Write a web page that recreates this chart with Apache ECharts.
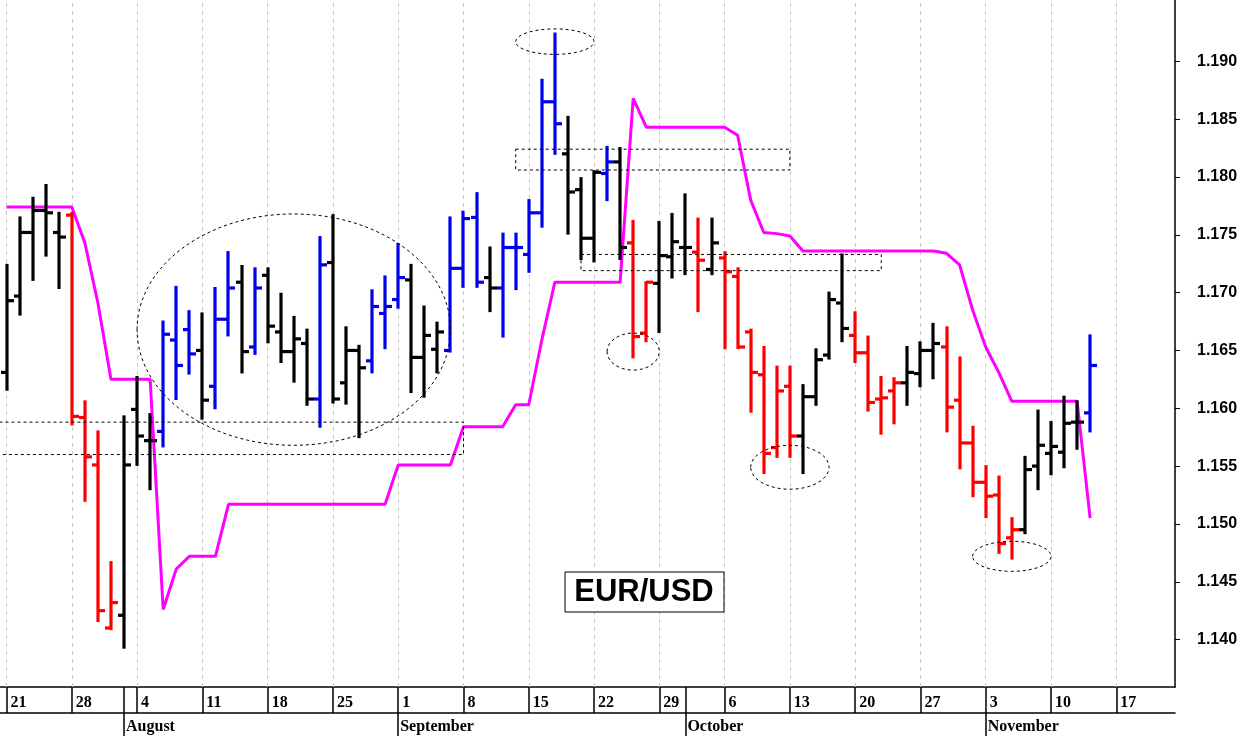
<!DOCTYPE html>
<html><head><meta charset="utf-8">
<script src="https://cdn.jsdelivr.net/npm/echarts@6/dist/echarts.min.js"></script>
<style>html,body{margin:0;padding:0;background:#fff}#c{width:1246px;height:736px}</style>
</head><body><div id="c"></div>
<script>
// ---- data ----
const startDate = '2025-07-21';
const nSlots = 90;
const opens  = [1.1631,1.1697,1.1752,1.1771,1.1752,1.1767,1.1592,1.1551,1.1410,1.1421,1.1599,1.1572,1.1580,1.1659,1.1668,1.1650,1.1619,1.1677,1.1709,1.1653,1.1715,1.1666,1.1649,1.1656,1.1608,1.1726,1.1622,1.1650,1.1641,1.1682,1.1694,1.1711,1.1644,1.1651,1.1650,1.1721,1.1765,1.1713,1.1704,1.1739,1.1733,1.1769,1.1865,1.1820,1.1789,1.1747,1.1803,1.1813,1.1743,1.1665,1.1708,1.1731,1.1739,1.1735,1.1720,1.1730,1.1714,1.1666,1.1629,1.1566,1.1619,1.1576,1.1610,1.1646,1.1691,1.1663,1.1648,1.1608,1.1615,1.1622,1.1630,1.1650,1.1653,1.1607,1.1570,1.1536,1.1525,1.1488,1.1495,1.1550,1.1561,1.1562,1.1588,1.1596];
const highs  = [1.1724,1.1765,1.1782,1.1793,1.1769,1.1769,1.1606,1.1580,1.1467,1.1593,1.1627,1.1595,1.1675,1.1705,1.1684,1.1682,1.1704,1.1735,1.1723,1.1721,1.1721,1.1699,1.1679,1.1668,1.1748,1.1767,1.1670,1.1654,1.1702,1.1714,1.1742,1.1724,1.1688,1.1674,1.1765,1.1770,1.1786,1.1739,1.1751,1.1751,1.1780,1.1884,1.1924,1.1852,1.1799,1.1805,1.1826,1.1825,1.1762,1.1709,1.1761,1.1768,1.1785,1.1764,1.1764,1.1735,1.1721,1.1668,1.1653,1.1636,1.1636,1.1620,1.1651,1.1700,1.1733,1.1683,1.1662,1.1627,1.1626,1.1653,1.1657,1.1673,1.1670,1.1644,1.1584,1.1550,1.1541,1.1505,1.1558,1.1598,1.1588,1.1610,1.1606,1.1663];
const lows   = [1.1616,1.1681,1.1711,1.1732,1.1704,1.1586,1.1520,1.1416,1.1409,1.1393,1.1551,1.1530,1.1567,1.1608,1.1630,1.1591,1.1600,1.1663,1.1631,1.1647,1.1657,1.1640,1.1623,1.1603,1.1584,1.1605,1.1604,1.1575,1.1631,1.1652,1.1687,1.1614,1.1610,1.1631,1.1649,1.1705,1.1705,1.1684,1.1662,1.1703,1.1718,1.1757,1.1820,1.1751,1.1729,1.1727,1.1780,1.1729,1.1644,1.1658,1.1666,1.1713,1.1716,1.1684,1.1716,1.1652,1.1652,1.1597,1.1544,1.1558,1.1558,1.1544,1.1603,1.1643,1.1658,1.1640,1.1598,1.1578,1.1587,1.1603,1.1619,1.1626,1.1580,1.1548,1.1524,1.1506,1.1475,1.1470,1.1492,1.1530,1.1543,1.1549,1.1565,1.1580];
const closes = [1.1693,1.1752,1.1771,1.1769,1.1748,1.1593,1.1558,1.1425,1.1432,1.1551,1.1576,1.1572,1.1664,1.1637,1.1647,1.1607,1.1677,1.1704,1.1649,1.1704,1.1671,1.1649,1.1660,1.1608,1.1724,1.1608,1.1650,1.1635,1.1688,1.1688,1.1713,1.1644,1.1663,1.1666,1.1721,1.1764,1.1709,1.1704,1.1739,1.1739,1.1769,1.1865,1.1846,1.1787,1.1747,1.1804,1.1813,1.1739,1.1662,1.1709,1.1732,1.1744,1.1739,1.1728,1.1743,1.1718,1.1653,1.1631,1.1561,1.1615,1.1576,1.1610,1.1642,1.1694,1.1669,1.1648,1.1605,1.1609,1.1622,1.1631,1.1650,1.1656,1.1601,1.1570,1.1536,1.1524,1.1483,1.1495,1.1547,1.1568,1.1567,1.1587,1.1588,1.1637];
const barColorCodes = 'kkkkkrrrrkkkbbbkbbkbkkkkbkkkbbbkkkbbbkbbbbbkkkbkrrkkkrkrrrrrrkkkkrrrrkkkrrrrrrkkkkkb';
const stopLine = [1.1774,1.1774,1.1774,1.1774,1.1774,1.1774,1.1743,1.1691,1.1625,1.1625,1.1625,1.1625,1.1426,1.1461,1.1472,1.1472,1.1472,1.1517,1.1517,1.1517,1.1517,1.1517,1.1517,1.1517,1.1517,1.1517,1.1517,1.1517,1.1517,1.1517,1.1551,1.1551,1.1551,1.1551,1.1551,1.1584,1.1584,1.1584,1.1584,1.1603,1.1603,1.1659,1.1709,1.1709,1.1709,1.1709,1.1709,1.1709,1.1868,1.1843,1.1843,1.1843,1.1843,1.1843,1.1843,1.1843,1.1836,1.1780,1.1752,1.1751,1.1749,1.1736,1.1736,1.1736,1.1736,1.1736,1.1736,1.1736,1.1736,1.1736,1.1736,1.1736,1.1734,1.1724,1.1685,1.1653,1.1631,1.1606,1.1606,1.1606,1.1606,1.1606,1.1606,1.1505];
const yTicks = [1.140,1.145,1.150,1.155,1.160,1.165,1.170,1.175,1.180,1.185,1.190];
const monthNames = ['January','February','March','April','May','June','July','August','September','October','November','December'];
// annotations in data units: [centerIndex, centerPrice, radiusIndex, radiusPrice]
const ellipses = [[22.4,1.1668,11.33,0.0100],[41.9,1.1917,2.9,0.0011],[47.9,1.1649,1.9,0.0016],[59.5,1.1549,3.4,0.0019],[77.0,1.1472,2.9,0.0013]];
// [fromIndex, toIndex, lowPrice, highPrice]
const boxes = [[-0.6,34.8,1.1560,1.1588],[39.0,59.8,1.1806,1.1824],[44.0,66.9,1.1719,1.1733]];
const titleText = 'EUR/USD';
const colorMap = {k:'#000000', r:'#ff0000', b:'#0000ee'};

// categories: trading days
const dates = [];
{ let d = new Date(startDate + 'T12:00:00Z');
  while (dates.length < nSlots) { const w = d.getUTCDay(); if (w !== 0 && w !== 6) dates.push(new Date(d)); d.setUTCDate(d.getUTCDate()+1); } }
const cats = dates.map(d => d.toISOString().slice(0,10));
const isMonday = i => dates[i].getUTCDay() === 1;
const isMonthStart = i => i > 0 && dates[i].getUTCMonth() !== dates[i-1].getUTCMonth();

const ohlc = opens.map((o,i) => [i, o, highs[i], lows[i], closes[i], barColorCodes[i]]);
const chart = echarts.init(document.getElementById('c'));
const boldFont = {fontFamily:'Liberation Serif', fontWeight:'bold', fontSize:16, color:'#000'};
chart.setOption({
  animation:false,
  grid:{left:0, right:71, top:0, bottom:49},
  xAxis:[{
    type:'category', data:cats, position:'bottom',
    axisLine:{show:true, lineStyle:{color:'#000', width:1.5}},
    axisTick:{show:true, alignWithLabel:true, length:26, interval:(i)=>isMonday(i)||isMonthStart(i), lineStyle:{color:'#000', width:1.5}},
    axisLabel:Object.assign({interval:(i)=>isMonday(i), formatter:(v)=>String(+v.slice(8)), align:'left', margin:8, padding:[0,0,0,4]}, boldFont),
    splitLine:{show:false}
  },{
    type:'category', data:cats, position:'bottom', offset:26, gridIndex:0,
    axisLine:{show:true, lineStyle:{color:'#000', width:1.5}},
    axisTick:{show:true, alignWithLabel:true, length:24, interval:(i)=>isMonthStart(i), lineStyle:{color:'#000', width:1.5}},
    axisLabel:Object.assign({interval:(i)=>isMonthStart(i), formatter:(v)=>monthNames[+v.slice(5,7)-1], align:'left', margin:6, padding:[0,0,0,2]}, boldFont),
    splitLine:{show:false}
  }],
  yAxis:{
    type:'value', position:'right', min:1.1359, max:1.1953, scale:true,
    axisLine:{show:true, lineStyle:{color:'#000', width:1.5}},
    axisTick:{show:true, customValues:yTicks, length:5, lineStyle:{color:'#000'}},
    axisLabel:{customValues:yTicks, formatter:(v)=>v.toFixed(3), margin:22, fontFamily:'Liberation Sans', fontWeight:'bold', fontSize:16, color:'#000'},
    splitLine:{show:false}
  },
  series:[{
    type:'line', data:stopLine, symbol:'none', z:3,
    lineStyle:{color:'#ff00ff', width:3},
    markLine:{silent:true, symbol:'none', label:{show:false}, z:1,
      lineStyle:{color:'#c8c8c8', type:[4,4], width:1},
      data:cats.map((c,i)=>i).filter(isMonday).map(i=>({xAxis:i}))}
  },{
    type:'custom', data:ohlc, z:4,
    encode:{x:0, y:[1,2,3,4]},
    renderItem:(params, api)=>{
      const i = api.value(0);
      const pO = api.coord([i, api.value(1)]), pH = api.coord([i, api.value(2)]);
      const pL = api.coord([i, api.value(3)]), pC = api.coord([i, api.value(4)]);
      const col = colorMap[ohlc[params.dataIndex][5]];
      const st = {stroke:col, lineWidth:3.2, lineCap:'butt'};
      const x = Math.round(pH[0]);
      return {type:'group', children:[
        {type:'line', shape:{x1:x, y1:pH[1]-1, x2:x, y2:pL[1]+1}, style:st},
        {type:'line', shape:{x1:x-6, y1:pO[1], x2:x, y2:pO[1]}, style:st},
        {type:'line', shape:{x1:x, y1:pC[1], x2:x+7, y2:pC[1]}, style:st}
      ]};
    }
  }]
});
const dash = {stroke:'#000', lineWidth:1, lineDash:[3,3], fill:null};
const g = [];
ellipses.forEach(([ci,cp,ri,rp])=>{
  const c = chart.convertToPixel({gridIndex:0},[ci,cp]);
  const e = chart.convertToPixel({gridIndex:0},[ci+ri,cp+rp]);
  g.push({type:'ellipse', shape:{cx:c[0], cy:c[1], rx:Math.abs(e[0]-c[0]), ry:Math.abs(c[1]-e[1])}, style:dash, z:10});
});
boxes.forEach(([a,b,lo,hi])=>{
  const p1 = chart.convertToPixel({gridIndex:0},[a,hi]);
  const p2 = chart.convertToPixel({gridIndex:0},[b,lo]);
  g.push({type:'rect', shape:{x:Math.min(p1[0],p2[0]), y:p1[1], width:Math.abs(p2[0]-p1[0]), height:p2[1]-p1[1]}, style:dash, z:10});
});
g.push({type:'rect', shape:{x:565, y:572, width:159, height:40}, style:{fill:'#fff', stroke:'#000', lineWidth:1}, z:11});
g.push({type:'text', x:644, y:592, style:{text:titleText, fontFamily:'Liberation Sans', fontWeight:'bold', fontSize:31, fill:'#000', align:'center', verticalAlign:'middle'}, z:12});
chart.setOption({graphic:g});
</script></body></html>
